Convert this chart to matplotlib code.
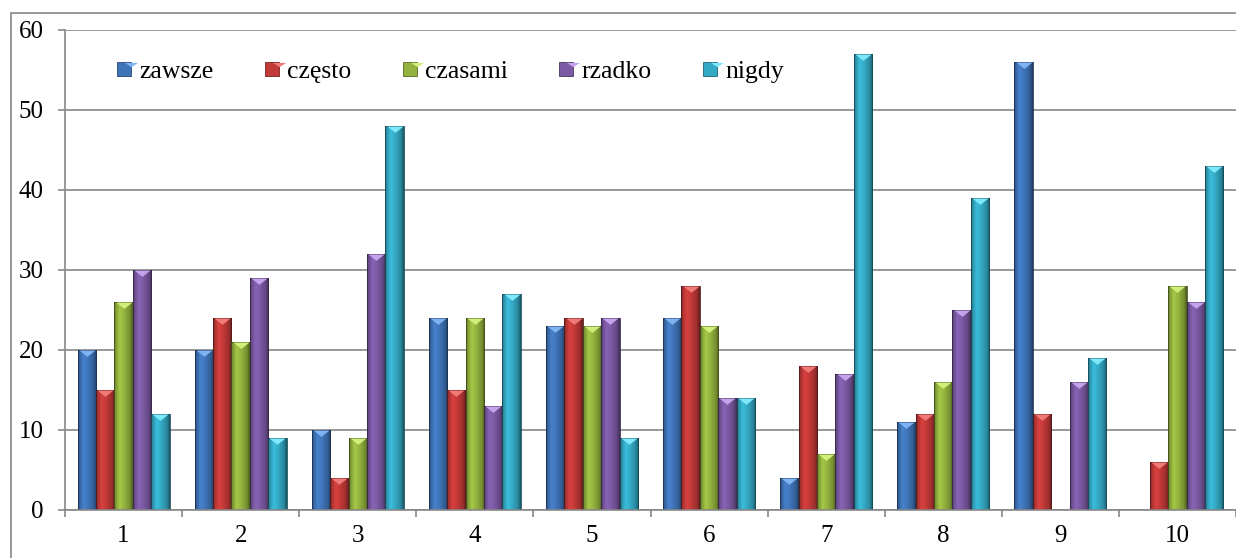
import numpy as np
import matplotlib
matplotlib.use("Agg")
import matplotlib.pyplot as plt
from matplotlib.path import Path
from matplotlib.patches import Rectangle
from matplotlib.lines import Line2D
from matplotlib.legend_handler import HandlerTuple
from matplotlib.colors import to_rgb

categories = ["1", "2", "3", "4", "5", "6", "7", "8", "9", "10"]
series_names = ["zawsze", "często", "czasami", "rzadko", "nigdy"]
zawsze = [20, 20, 10, 24, 23, 24, 4, 11, 56, 0]
czesto = [15, 24, 4, 15, 24, 28, 18, 12, 12, 6]
czasami = [26, 21, 9, 24, 23, 23, 7, 16, 0, 28]
rzadko = [30, 29, 32, 13, 24, 14, 17, 25, 16, 26]
nigdy = [12, 9, 48, 27, 9, 14, 57, 39, 19, 43]
yticks = [0, 10, 20, 30, 40, 50, 60]

series = [zawsze, czesto, czasami, rzadko, nigdy]
colors = ["#3f74b8", "#c23a38", "#93b33e", "#7b59a3", "#34a9c5"]
tri_colors = ["#7fb2f0", "#f07a78", "#d2ee7a", "#c4a2ec", "#7ee8fb"]

plt.rcParams["font.family"] = ["Liberation Serif", "DejaVu Serif"]

fig = plt.figure(figsize=(12.36, 5.58), dpi=100)
ax = fig.add_axes([65 / 1236, (558 - 510) / 558, 1 - 65 / 1236, (510 - 29.5) / 558])

grid_c = "#878787"
n_cat = len(categories)
x = np.arange(n_cat)
w = 0.157

profile_pos = np.linspace(0, 1, 64)
prof = np.interp(profile_pos, [0, 0.08, 0.3, 0.55, 0.85, 1.0],
                 [0.55, 0.85, 1.12, 1.0, 0.8, 0.5])

tri_marker = Path([(-1, 0), (1, 0), (0, -0.8), (-1, 0)],
                  [Path.MOVETO, Path.LINETO, Path.LINETO, Path.CLOSEPOLY])

for i, (vals, c, tc) in enumerate(zip(series, colors, tri_colors)):
    xs = x + (i - 2) * w
    bars = ax.bar(xs, vals, width=w, color=c, edgecolor="none", zorder=2)
    base = np.array(to_rgb(c))
    img = np.clip(base[None, None, :] * prof[None, :, None], 0, 1)
    for b, v in zip(bars, vals):
        if v <= 0:
            continue
        x0 = b.get_x()
        im = ax.imshow(img, extent=(x0, x0 + w, 0, v), aspect="auto",
                       interpolation="bilinear", zorder=2.1)
        im.set_clip_path(b)
        ax.add_patch(Rectangle((x0, 0), w, v, fill=False,
                               edgecolor=tuple(base * 0.45), lw=0.6, zorder=2.2))
    xv = [xx for xx, v in zip(xs, vals) if v > 0]
    yv = [v for v in vals if v > 0]
    ax.plot(xv, yv, linestyle="none", marker=tri_marker, markersize=11.5,
            color=tc, markeredgewidth=0, zorder=3)

ax.set_xlim(-0.5, n_cat - 0.5)
ax.set_ylim(0, 60)
ax.set_yticks(yticks)
ax.set_yticklabels([str(t) for t in yticks])
ax.set_xticks(x)
ax.set_xticklabels(categories)
ax.set_xticks(np.arange(-0.5, n_cat, 1.0), minor=True)

ax.yaxis.grid(True, color=grid_c, lw=1.2, zorder=0)
ax.set_axisbelow(True)
for s in ["top", "right"]:
    ax.spines[s].set_visible(False)
for s in ["left", "bottom"]:
    ax.spines[s].set_color(grid_c)
    ax.spines[s].set_linewidth(1.2)
ax.tick_params(axis="y", length=5, width=1.2, color=grid_c, labelsize=18, pad=10.5)
ax.tick_params(axis="x", which="major", length=0, labelsize=18, pad=11)
ax.tick_params(axis="x", which="minor", length=5, width=1.2, color=grid_c)

handles = []
for c, tc in zip(colors, tri_colors):
    sq = Line2D([], [], linestyle="none", marker="s", markersize=9.5,
                color=c, markeredgecolor=tuple(np.array(to_rgb(c)) * 0.6),
                markeredgewidth=0.6)
    tri = Line2D([], [], linestyle="none",
                 marker=Path([(-1, 1), (1, 1), (0, 0.35), (-1, 1)],
                             [Path.MOVETO, Path.LINETO, Path.LINETO, Path.CLOSEPOLY]),
                 markersize=9.5, color=tc, markeredgewidth=0)
    handles.append((sq, tri))

leg = ax.legend(handles, series_names, ncol=5, frameon=False,
                loc="center left", bbox_to_anchor=(120 / 1236, 1 - 72 / 558),
                bbox_transform=fig.transFigure, fontsize=18.5,
                handler_map={tuple: HandlerTuple(ndivide=None)},
                handlelength=0.55, handletextpad=0.2, columnspacing=2.12,
                borderpad=0, borderaxespad=0)

fig.patches.append(Rectangle((11 / 1236, -0.1), 1.2, (558 - 13) / 558 + 0.1,
                             transform=fig.transFigure, fill=False,
                             edgecolor=grid_c, lw=1.2))

fig.savefig("out.png", dpi=100)
